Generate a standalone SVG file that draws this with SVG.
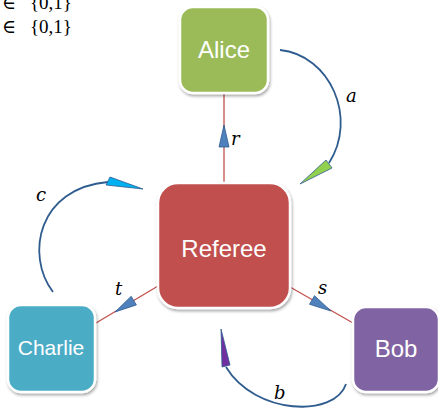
<svg xmlns="http://www.w3.org/2000/svg" width="438" height="410" viewBox="0 0 438 410">
<style>
.node{stroke:#fff;stroke-width:2.5}
.lbl{font-family:"Liberation Sans",Arial,sans-serif;fill:#fff;text-anchor:middle}
.math{font-family:"DejaVu Serif","Liberation Serif",serif;font-style:italic;font-size:18px;fill:#000}
.set{font-family:"Liberation Serif","DejaVu Serif",serif;font-size:19px;fill:#000}
.edge{stroke:#C0504D;stroke-width:1.3;fill:none}
.arc{stroke:#2F5C8F;stroke-width:1.8;fill:none}
.head{stroke:#2F5C8F;stroke-width:0.8;stroke-linejoin:miter}
</style>
<defs>
<filter id="sh" x="-20%" y="-20%" width="140%" height="140%">
<feDropShadow dx="1" dy="2" stdDeviation="1.5" flood-color="#000" flood-opacity="0.35"/>
</filter>
</defs>
<rect width="438" height="410" fill="#fff"/>
<g id="setlabels">
<text class="set" x="2" y="9">∈</text><text class="set" x="30" y="9">{0,1}</text>
<text class="set" x="2" y="33">∈</text><text class="set" x="30" y="33">{0,1}</text>
</g>
<g id="connectors">
<line class="edge" x1="224" y1="93" x2="224" y2="184"/>
<line class="edge" x1="158" y1="286" x2="96" y2="323"/>
<line class="edge" x1="290" y1="287" x2="353" y2="323"/>
<polygon class="head" fill="#4F81BD" points="224,125 219,147 229,147"/>
<polygon class="head" fill="#4F81BD" points="115,312 136.4,304.9 131.2,296.3"/>
<polygon class="head" fill="#4F81BD" points="331,311 309.5,304.3 314.5,295.7"/>
<path class="arc" d="M280 50 C330 55 358 118 329 163"/>
<polygon class="head" fill="#92D050" points="300,184 326,160 332,168"/>
<path class="arc" d="M53 292 C25 255 38 188 108 182"/>
<polygon class="head" fill="#00B0F0" points="143,189 110,177 106,185"/>
<path class="arc" d="M346 384 C335 418 255 415 226 367"/>
<polygon class="head" fill="#7030A0" points="221,329 222,367 230,365"/>
<text class="math" x="231" y="145">r</text>
<text class="math" x="346" y="102">a</text>
<text class="math" x="36" y="201">c</text>
<text class="math" x="115" y="295">t</text>
<text class="math" x="318" y="294">s</text>
<text class="math" x="274" y="399">b</text>
</g>
<g id="alice">
<rect class="node" x="180" y="7" width="88" height="86" rx="13" fill="#9BBB59" filter="url(#sh)"/>
<text class="lbl" x="224" y="58" font-size="24">Alice</text>
</g>
<g id="referee">
<rect class="node" x="158" y="183" width="132" height="125" rx="20" fill="#C0504D" filter="url(#sh)"/>
<text class="lbl" x="224" y="257" font-size="24">Referee</text>
</g>
<g id="charlie">
<rect class="node" x="8" y="305" width="87" height="87" rx="13" fill="#4BACC6" filter="url(#sh)"/>
<text class="lbl" x="51" y="355" font-size="21">Charlie</text>
</g>
<g id="bob">
<rect class="node" x="353" y="307" width="86" height="85" rx="13" fill="#8064A2" filter="url(#sh)"/>
<text class="lbl" x="396" y="357" font-size="24">Bob</text>
</g>
</svg>
